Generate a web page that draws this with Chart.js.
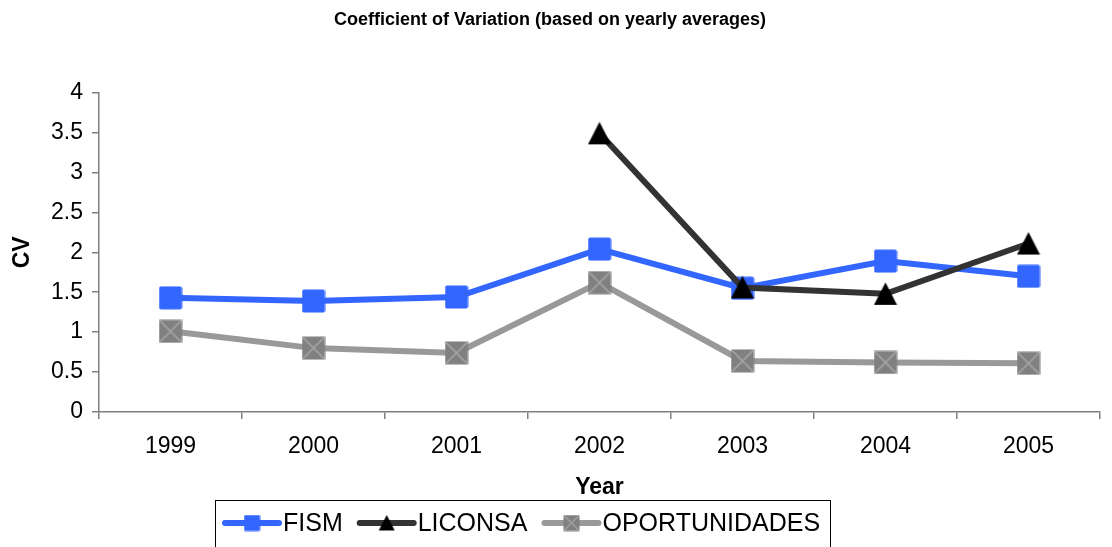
<!DOCTYPE html>
<html>
<head>
<meta charset="utf-8">
<title>Coefficient of Variation</title>
<script src="https://cdn.jsdelivr.net/npm/chart.js@4"></script>
<style>
  html, body { margin: 0; padding: 0; background: #fff; }
  #wrap { width: 1112px; height: 547px; }
</style>
</head>
<body>
<div id="wrap"><canvas id="cvChart" width="1112" height="547"></canvas></div>
<script>
// Chart data
const years = ['1999', '2000', '2001', '2002', '2003', '2004', '2005'];
const fism = [1.43, 1.39, 1.44, 2.04, 1.55, 1.89, 1.70];
const liconsa = [null, null, null, 3.49, 1.56, 1.48, 2.11];
const oportunidades = [1.01, 0.80, 0.74, 1.62, 0.64, 0.62, 0.61];
const yTicks = [0, 0.5, 1, 1.5, 2, 2.5, 3, 3.5, 4];

const FONT = "'Liberation Sans', Arial, sans-serif";

// Build marker images (Excel-like markers)
function makeMarker(kind, size) {
  const c = document.createElement('canvas');
  c.width = size;
  c.height = size;
  const g = c.getContext('2d');
  if (kind === 'square') {
    g.fillStyle = '#3366FF';
    g.beginPath();
    g.roundRect(0.5, 0.5, size - 1, size - 1, size * 0.08);
    g.fill();
  } else if (kind === 'triangle') {
    g.fillStyle = '#000000';
    g.beginPath();
    g.moveTo(size / 2, 0.5);
    g.lineTo(size - 0.5, size - 1);
    g.lineTo(0.5, size - 1);
    g.closePath();
    g.fill();
  } else {
    g.fillStyle = '#808080';
    g.fillRect(0.5, 0.5, size - 1, size - 1);
    g.strokeStyle = '#A6A6A6';
    g.lineWidth = Math.max(1, size / 14);
    g.beginPath();
    g.moveTo(1.5, 1.5);
    g.lineTo(size - 1.5, size - 1.5);
    g.moveTo(size - 1.5, 1.5);
    g.lineTo(1.5, size - 1.5);
    g.stroke();
  }
  return c;
}

const markerKinds = ['square', 'triangle', 'xsquare'];
const chartMarkers = markerKinds.map(k => makeMarker(k, 24));
const legendMarkers = markerKinds.map(k => makeMarker(k, 17));

// Legend drawn as one boxed row like the original
const boxedLegend = {
  id: 'boxedLegend',
  afterDraw(chart) {
    const ctx = chart.ctx;
    const startX = 222;
    const midY = 523;
    const sampleLen = 60;
    ctx.save();
    ctx.font = '25px ' + FONT;
    ctx.textBaseline = 'middle';
    let x = startX;
    let textEnd = x;
    chart.data.datasets.forEach((ds, i) => {
      ctx.strokeStyle = ds.borderColor;
      ctx.lineWidth = 6;
      ctx.lineCap = 'round';
      ctx.beginPath();
      ctx.moveTo(x + 3, midY);
      ctx.lineTo(x + sampleLen - 3, midY);
      ctx.stroke();
      const m = legendMarkers[i];
      ctx.drawImage(m, x + sampleLen / 2 - m.width / 2, midY - m.height / 2);
      ctx.fillStyle = '#000';
      ctx.fillText(ds.label, x + sampleLen + 1, midY + 1);
      textEnd = x + sampleLen + 1 + ctx.measureText(ds.label).width;
      x = textEnd + 14;
    });
    ctx.strokeStyle = '#000';
    ctx.lineWidth = 1;
    ctx.strokeRect(startX - 6.5, 500.5, Math.round(textEnd + 11 - startX + 6), 60);
    ctx.restore();
  }
};

const ctx = document.getElementById('cvChart').getContext('2d');

new Chart(ctx, {
  type: 'line',
  data: {
    labels: years,
    datasets: [
      {
        label: 'FISM',
        data: fism,
        borderColor: '#3366FF',
        backgroundColor: '#3366FF',
        borderWidth: 6,
        pointStyle: chartMarkers[0],
        pointRadius: 12,
        order: 1
      },
      {
        label: 'LICONSA',
        data: liconsa,
        borderColor: '#333333',
        backgroundColor: '#000000',
        borderWidth: 6,
        pointStyle: chartMarkers[1],
        pointRadius: 12,
        order: 0
      },
      {
        label: 'OPORTUNIDADES',
        data: oportunidades,
        borderColor: '#999999',
        backgroundColor: '#808080',
        borderWidth: 6,
        pointStyle: chartMarkers[2],
        pointRadius: 12,
        order: 2
      }
    ]
  },
  options: {
    responsive: false,
    animation: false,
    events: [],
    layout: {
      autoPadding: false,
      padding: { left: 0, right: 12, top: 0, bottom: 45 }
    },
    plugins: {
      legend: { display: false },
      tooltip: { enabled: false },
      title: {
        display: true,
        text: 'Coefficient of Variation (based on yearly averages)',
        color: '#000',
        font: { family: FONT, size: 18, weight: 'bold' },
        padding: { top: 9, bottom: 62 }
      }
    },
    scales: {
      x: {
        offset: true,
        afterFit(scale) { scale.height = 90; },
        grid: {
          offset: true,
          drawOnChartArea: false,
          tickLength: 7,
          color: '#808080',
          lineWidth: 1.5
        },
        border: { color: '#808080', width: 1.5 },
        ticks: {
          color: '#000',
          padding: 14,
          maxRotation: 0,
          font: { family: FONT, size: 23 }
        },
        title: {
          display: true,
          text: 'Year',
          color: '#000',
          font: { family: FONT, size: 23, weight: 'bold' },
          padding: { top: 0, bottom: 1 }
        }
      },
      y: {
        min: 0,
        max: 4,
        afterFit(scale) { scale.width = 99; },
        afterBuildTicks(scale) {
          scale.ticks = yTicks.map(v => ({ value: v }));
        },
        grid: {
          drawOnChartArea: false,
          tickLength: 7,
          color: '#808080',
          lineWidth: 1.5
        },
        border: { color: '#808080', width: 1.5 },
        ticks: {
          color: '#000',
          padding: 9,
          font: { family: FONT, size: 23 },
          callback: v => String(v)
        },
        title: {
          display: true,
          text: 'CV',
          color: '#000',
          font: { family: FONT, size: 23, weight: 'bold' },
          padding: { top: 9, bottom: 0 }
        }
      }
    }
  },
  plugins: [boxedLegend]
});
</script>
</body>
</html>
